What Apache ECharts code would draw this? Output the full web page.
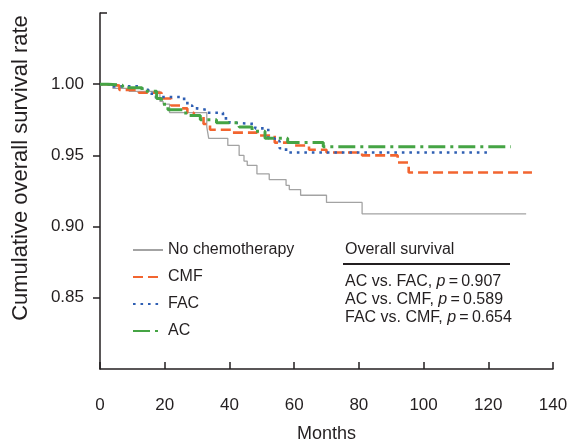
<!DOCTYPE html>
<html>
<head>
<meta charset="utf-8">
<script src="https://cdn.jsdelivr.net/npm/echarts@6/dist/echarts.min.js"></script>
<style>
html,body{margin:0;padding:0;background:#fff;}
#chart{width:570px;height:443px;}
</style>
</head>
<body>
<div id="chart"></div>
<script>
// ---- data ----
const seriesNames = ['No chemotherapy', 'CMF', 'FAC', 'AC'];

const noChemoMonths = [0, 4, 9, 18.5, 19.5, 21.5, 33, 33.6, 39.5, 43, 44.5, 45.5, 48.5, 52.3, 57.5, 58.5, 62, 70, 81, 131.7];
const noChemoSurv   = [1.000, 0.997, 0.995, 0.988, 0.986, 0.980, 0.970, 0.962, 0.957, 0.950, 0.946, 0.943, 0.937, 0.933, 0.929, 0.926, 0.922, 0.917, 0.909, 0.909];

const cmfMonths = [0, 2, 6, 12, 19, 22, 25, 27, 29, 32, 34, 41, 48.6, 54, 60, 64.6, 70, 81, 92, 95.4, 133.5];
const cmfSurv   = [1.000, 0.999, 0.996, 0.994, 0.990, 0.985, 0.983, 0.980, 0.978, 0.972, 0.968, 0.966, 0.964, 0.959, 0.957, 0.954, 0.952, 0.950, 0.945, 0.938, 0.938];

const facMonths = [0, 3.5, 13, 15, 16, 26, 27, 28.5, 30, 33, 38, 40, 41, 48, 52, 54, 55.5, 57.5, 121];
const facSurv   = [1.000, 0.9985, 0.996, 0.994, 0.991, 0.988, 0.985, 0.983, 0.982, 0.980, 0.976, 0.973, 0.972, 0.969, 0.962, 0.960, 0.955, 0.952, 0.952];

const acMonths = [0, 2.5, 7, 13, 17.5, 19, 21, 26.5, 31, 36, 43, 47, 51, 58, 69, 127];
const acSurv   = [1.000, 0.9993, 0.9975, 0.995, 0.990, 0.986, 0.982, 0.978, 0.975, 0.973, 0.970, 0.967, 0.962, 0.959, 0.956, 0.956];

const xTicks = [0, 20, 40, 60, 80, 100, 120, 140];
const yTickLabels = [0.85, 0.90, 0.95, 1.00];

const annoTitle = 'Overall survival';
const annoRows = [
  ['AC vs. FAC, ', '0.907'],
  ['AC vs. CMF, ', '0.589'],
  ['FAC vs. CMF, ', '0.654']
];

// ---- chart ----
const pair = (xs, ys) => xs.map((x, i) => [x, ys[i]]);
const TXT = '#231f20';
const FONT = '"Liberation Sans", Arial, Helvetica, sans-serif';

const chart = echarts.init(document.getElementById('chart'), null, {renderer: 'canvas'});

function lineSeries(name, data, color, width, dash) {
  return {
    name: name,
    type: 'line',
    step: 'end',
    data: data,
    symbol: 'none',
    showSymbol: false,
    animation: false,
    silent: true,
    lineStyle: {color: color, width: width, type: dash, cap: 'butt'},
    itemStyle: {color: color}
  };
}

const option = {
  animation: false,
  backgroundColor: '#fff',
  textStyle: {fontFamily: FONT, color: TXT},
  grid: {left: 100, right: 17, top: 13, bottom: 74, containLabel: false, outerBoundsMode: 'none'},
  xAxis: {
    type: 'value',
    min: 0, max: 140, interval: 20,
    name: 'Months',
    nameLocation: 'middle',
    nameGap: 56,
    nameTextStyle: {fontSize: 18, color: TXT, fontFamily: FONT},
    axisLine: {show: true, lineStyle: {color: TXT, width: 1.5}},
    axisTick: {show: true, inside: true, length: 7, lineStyle: {color: TXT, width: 1.5}},
    axisLabel: {fontSize: 17, color: TXT, margin: 28, fontFamily: FONT,
      customValues: xTicks},
    splitLine: {show: false}
  },
  yAxis: [{
    type: 'value',
    min: 0.80, max: 1.05, interval: 0.05,
    name: 'Cumulative overall survival rate',
    nameLocation: 'middle',
    nameGap: 68,
    nameRotate: 90,
    nameTextStyle: {fontSize: 22, color: TXT, fontFamily: FONT, padding: [0, 0, 0, 46]},
    axisLine: {show: true, lineStyle: {color: TXT, width: 1.5}},
    axisTick: {show: true, inside: false, length: 7, lineStyle: {color: TXT, width: 1.5},
      customValues: yTickLabels},
    axisLabel: {fontSize: 17, color: TXT, margin: 16, fontFamily: FONT,
      customValues: yTickLabels,
      formatter: v => v.toFixed(2)},
    splitLine: {show: false}
  }, {
    type: 'value',
    min: 0.80, max: 1.05, interval: 0.05,
    position: 'left',
    axisLine: {show: false},
    axisTick: {show: true, inside: true, length: 7, lineStyle: {color: TXT, width: 1.5},
      customValues: [1.05]},
    axisLabel: {show: false},
    splitLine: {show: false}
  }],
  legend: {
    orient: 'vertical',
    left: 132,
    top: 242,
    padding: 0,
    itemWidth: 30,
    itemHeight: 14,
    itemGap: 11,
    data: seriesNames,
    itemStyle: {opacity: 0},
    textStyle: {fontSize: 16, color: TXT, fontFamily: FONT},
    selectedMode: false
  },
  series: [
    lineSeries(seriesNames[0], pair(noChemoMonths, noChemoSurv), '#a3a3a3', 1.3, 'solid'),
    lineSeries(seriesNames[1], pair(cmfMonths, cmfSurv), '#f26530', 2.6, [10, 5]),
    lineSeries(seriesNames[2], pair(facMonths, facSurv), '#2f5fb3', 2.6, [2.6, 4.9]),
    lineSeries(seriesNames[3], pair(acMonths, acSurv), '#45a444', 3, [17, 5, 3, 5])
  ],
  graphic: [
    {type: 'text', left: 345, top: 242, silent: true,
      style: {text: annoTitle, font: '16px ' + FONT, fill: TXT}},
    {type: 'line', silent: true,
      shape: {x1: 343, y1: 264, x2: 510, y2: 264},
      style: {stroke: TXT, lineWidth: 2}},
    ...annoRows.map((r, i) => ({
      type: 'text', left: 345, top: 274 + i * 18, silent: true,
      style: {
        rich: {
          n: {font: '16px ' + FONT, fill: TXT},
          i: {font: 'italic 16px ' + FONT, fill: TXT}
        },
        text: '{n|' + r[0] + '}{i|p}{n|\u2009=\u2009' + r[1] + '}'
      }
    }))
  ]
};

chart.setOption(option);
</script>
</body>
</html>
